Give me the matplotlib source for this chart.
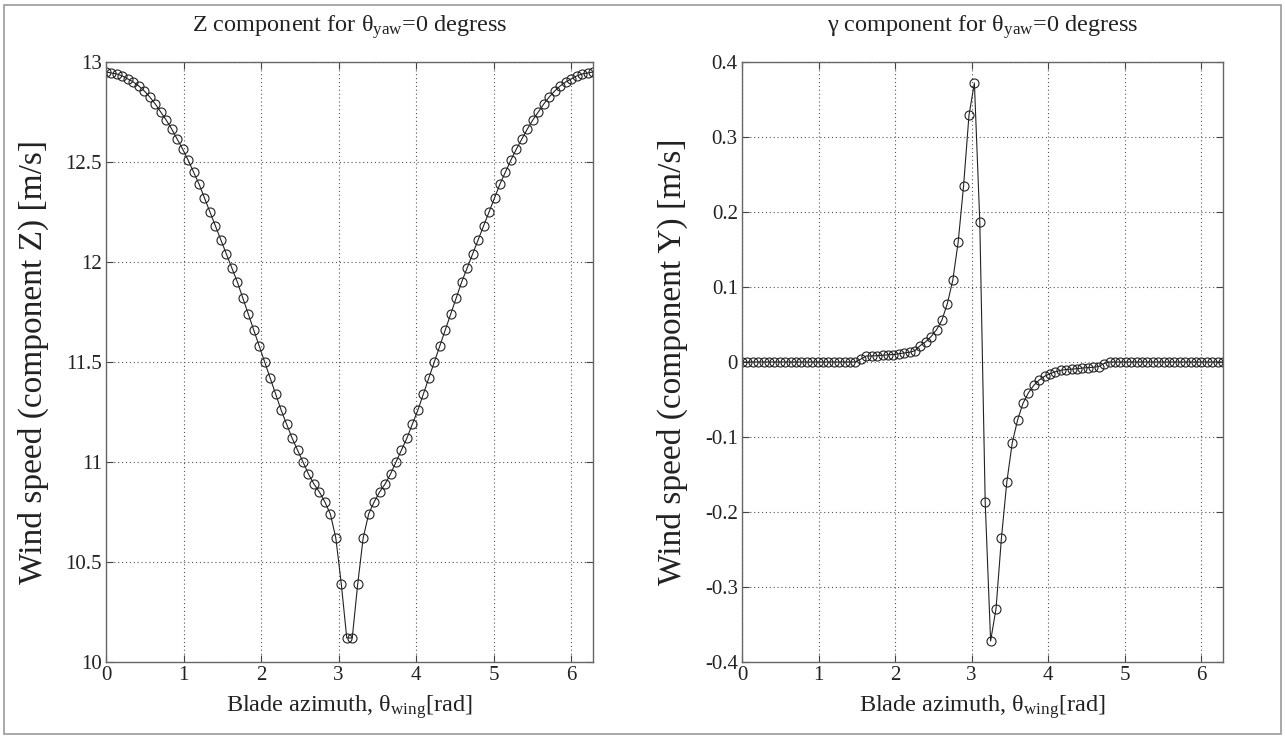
import numpy as np
import matplotlib
matplotlib.use("Agg")
import matplotlib.pyplot as plt
from matplotlib.patches import Rectangle

plt.rcParams['font.family'] = ['Liberation Serif', 'DejaVu Serif']
plt.rcParams['mathtext.fontset'] = 'custom'
plt.rcParams['mathtext.rm'] = 'Liberation Serif'
plt.rcParams['mathtext.it'] = 'Liberation Serif:italic'
plt.rcParams['axes.unicode_minus'] = False

# blade azimuth samples, 90 points over one revolution
n_points = 90
azimuth = np.linspace(0, 2 * np.pi, n_points)

# Z component [m/s] (k = 0..89)
wind_z = [
    12.95, 12.945, 12.94, 12.93, 12.915, 12.90, 12.88, 12.855, 12.825, 12.79,
    12.75, 12.71, 12.665, 12.615, 12.565, 12.51, 12.45, 12.39, 12.32, 12.25,
    12.18, 12.11, 12.04, 11.97, 11.90, 11.82, 11.74, 11.66, 11.58, 11.50,
    11.42, 11.34, 11.26, 11.19, 11.12, 11.06, 11.00, 10.94, 10.89, 10.85,
    10.80, 10.74, 10.62, 10.39, 10.12,
    10.12, 10.39, 10.62, 10.74, 10.80, 10.85, 10.89, 10.94, 11.00, 11.06,
    11.12, 11.19, 11.26, 11.34, 11.42, 11.50, 11.58, 11.66, 11.74, 11.82,
    11.90, 11.97, 12.04, 12.11, 12.18, 12.25, 12.32, 12.39, 12.45, 12.51,
    12.565, 12.615, 12.665, 12.71, 12.75, 12.79, 12.825, 12.855, 12.88, 12.90,
    12.915, 12.93, 12.94, 12.945, 12.95,
]

# Y component [m/s] (k = 0..89)
wind_y = [
    0, 0, 0, 0, 0, 0, 0, 0, 0, 0,
    0, 0, 0, 0, 0, 0, 0, 0, 0, 0,
    0, 0, 0.004, 0.008, 0.008, 0.0085, 0.009, 0.0095, 0.010, 0.011,
    0.012, 0.013, 0.015, 0.022, 0.027, 0.034, 0.043, 0.056, 0.078, 0.109,
    0.160, 0.235, 0.329, 0.372, 0.187,
    -0.187, -0.372, -0.329, -0.235, -0.160, -0.108, -0.077, -0.055, -0.041, -0.031,
    -0.024, -0.019, -0.0155, -0.013, -0.011, -0.010, -0.0095, -0.009, -0.008, -0.0075,
    -0.007, -0.006, -0.002, 0, 0, 0, 0, 0, 0, 0,
    0, 0, 0, 0, 0, 0, 0, 0, 0, 0,
    0, 0, 0, 0, 0,
]

z_ticks = [10, 10.5, 11, 11.5, 12, 12.5, 13]
z_ticklabels = ['10', '10.5', '11', '11.5', '12', '12.5', '13']
y_ticks = [-0.4, -0.3, -0.2, -0.1, 0, 0.1, 0.2, 0.3, 0.4]
y_ticklabels = ['-0.4', '-0.3', '-0.2', '-0.1', '0', '0.1', '0.2', '0.3', '0.4']
x_ticks = [0, 1, 2, 3, 4, 5, 6]

fig = plt.figure(figsize=(12.85, 7.38), dpi=100)
fig.patches.append(Rectangle((0.003, 0.005), 0.994, 0.988, transform=fig.transFigure,
                             fill=False, edgecolor='#999999', linewidth=1.2))

ax1 = fig.add_axes([106 / 1285, 1 - 662 / 738, 487 / 1285, 600 / 738])
ax2 = fig.add_axes([742 / 1285, 1 - 662 / 738, 481 / 1285, 600 / 738])

panels = [
    (ax1, wind_z, (10, 13), z_ticks, z_ticklabels,
     r'Z component for $\mathrm{\theta_{yaw}}$=0 degress',
     'Wind speed (component Z) [m/s]'),
    (ax2, wind_y, (-0.4, 0.4), y_ticks, y_ticklabels,
     r'γ component for $\mathrm{\theta_{yaw}}$=0 degress',
     'Wind speed (component Y) [m/s]'),
]

for ax, values, ylim, ticks, ticklabels, title, ylabel in panels:
    ax.plot(azimuth, values, color='#222222', linewidth=0.8, marker='o',
            markersize=6.5, markerfacecolor='none', markeredgecolor='#222222',
            markeredgewidth=0.8)
    ax.set_xlim(0, 2 * np.pi)
    ax.set_ylim(*ylim)
    ax.set_xticks(x_ticks)
    ax.set_yticks(ticks)
    ax.set_yticklabels(ticklabels)
    ax.grid(True, linestyle=(0, (1, 2.5)), color='#555555', linewidth=0.8)
    ax.tick_params(direction='in', top=True, right=True, length=5, width=0.8,
                   labelsize=15, colors='#444444', labelcolor='#222222', pad=3)
    for spine in ax.spines.values():
        spine.set_color('#666666')
        spine.set_linewidth(1.0)
    ax.set_title(title, fontsize=17.5, color='#222222', pad=22)
    ax.set_ylabel(ylabel, fontsize=24, color='#222222', labelpad=12)
    ax.set_xlabel(r'Blade azimuth, $\mathrm{\theta_{wing}}$[rad]', fontsize=17.5,
                  color='#222222', labelpad=6)

fig.savefig('out.png', dpi=100)
